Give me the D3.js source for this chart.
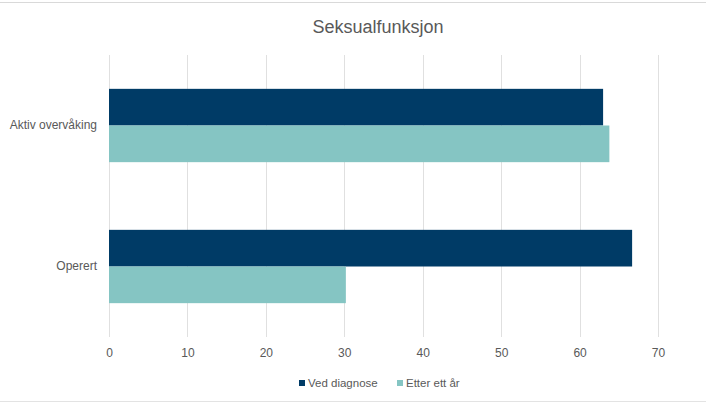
<!DOCTYPE html>
<html>
<head>
<meta charset="utf-8">
<script src="https://cdn.jsdelivr.net/npm/d3@7"></script>
<style>
  body { margin: 0; background: #fff; }
  text { font-family: "Liberation Sans", Arial, sans-serif; fill: #595959; }
</style>
</head>
<body>
<div id="chart"></div>
<script>
// values
var categories = ["Aktiv overvåking", "Operert"];
var series = ["Ved diagnose", "Etter ett år"];
var vedDiagnose = [63.0, 66.7];
var etterEttAr = [63.8, 30.2];
var xTicks = [0, 10, 20, 30, 40, 50, 60, 70];
var colors = ["#003b66", "#85c5c3"];

var W = 706, H = 403;
var margin = {top: 55, right: 48, bottom: 66, left: 109};
var width = W - margin.left - margin.right,
    height = H - margin.top - margin.bottom;

var data = categories.map(function(c, i) {
    return {cat: c, values: [vedDiagnose[i], etterEttAr[i]]};
});

var svg = d3.select("#chart").append("svg")
    .attr("width", W)
    .attr("height", H);

// frame lines
svg.append("line").attr("x1", 0).attr("x2", W).attr("y1", 2.5).attr("y2", 2.5)
    .attr("stroke", "#d9d9d9");
svg.append("line").attr("x1", 0).attr("x2", W).attr("y1", 401.5).attr("y2", 401.5)
    .attr("stroke", "#e3e3e3");

svg.append("text")
    .attr("x", 378).attr("y", 33)
    .attr("text-anchor", "middle")
    .style("font-size", "18px")
    .text("Seksualfunksjon");

var g = svg.append("g")
    .attr("transform", "translate(" + margin.left + "," + margin.top + ")");

var x = d3.scaleLinear().domain([0, 70]).range([0, width]);
var y = d3.scaleBand().domain(categories).range([0, height])
    .paddingInner(0.48).paddingOuter(0.24);
var ys = d3.scaleBand().domain(series).range([0, y.bandwidth()]);

// gridlines
g.selectAll(".grid").data(xTicks).enter().append("line")
    .attr("class", "grid")
    .attr("x1", d => Math.round(x(d)) + 0.5)
    .attr("x2", d => Math.round(x(d)) + 0.5)
    .attr("y1", 0).attr("y2", height)
    .attr("stroke", "#e0e0e0");

// bars
var groups = g.selectAll(".grp").data(data).enter().append("g")
    .attr("transform", d => "translate(0," + y(d.cat) + ")");
groups.selectAll("rect").data(d => d.values).enter().append("rect")
    .attr("x", x(0))
    .attr("y", (d, i) => ys(series[i]))
    .attr("width", d => x(d) - x(0))
    .attr("height", ys.bandwidth())
    .attr("fill", (d, i) => colors[i]);

// x axis labels
var xAxis = g.append("g")
    .attr("transform", "translate(0," + height + ")")
    .call(d3.axisBottom(x).tickValues(xTicks).tickSize(0).tickPadding(11));
xAxis.select(".domain").remove();
xAxis.selectAll("text").style("font-size", "12px").attr("fill", "#595959");

// y axis labels
var yAxis = g.append("g")
    .call(d3.axisLeft(y).tickSize(0).tickPadding(12));
yAxis.select(".domain").remove();
yAxis.selectAll("text").style("font-size", "12px").attr("fill", "#595959");

// legend
var legX = [299, 397];
var leg = svg.selectAll(".leg").data(series).enter().append("g")
    .attr("transform", (d, i) => "translate(" + legX[i] + ",380)");
leg.append("rect").attr("width", 6).attr("height", 6).attr("fill", (d, i) => colors[i]);
leg.append("text").attr("x", 9).attr("y", 7)
    .style("font-size", "11.5px")
    .text(d => d);
</script>
</body>
</html>
